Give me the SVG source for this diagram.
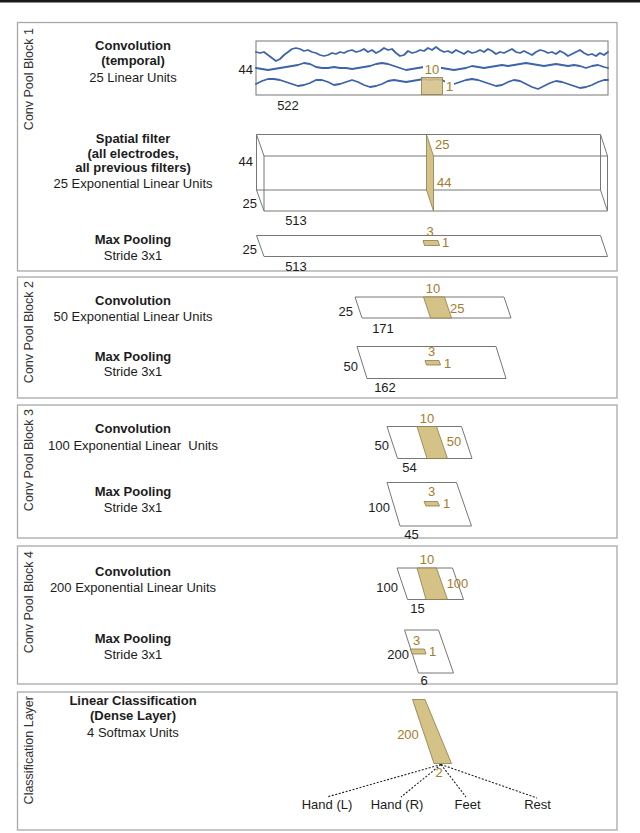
<svg xmlns="http://www.w3.org/2000/svg" width="640" height="833" viewBox="0 0 640 833">
<style>
.panel{fill:#fff;stroke:#a8a8a8;stroke-width:1.3}
.shape{fill:#fff;stroke:#777;stroke-width:1}
.edge{fill:none;stroke:#777;stroke-width:1}
.tan{fill:#d5c287;stroke:#8c7a48;stroke-width:0.8}
.t{font-family:"Liberation Sans",Arial,sans-serif;font-size:13px;fill:#1c1c1c;text-anchor:middle}
.b{font-weight:bold}
.n{font-family:"Liberation Sans",Arial,sans-serif;font-size:13px;fill:#1c1c1c}
.g{fill:#a57b2c}
.side{font-family:"Liberation Sans",Arial,sans-serif;font-size:12.5px;fill:#333;text-anchor:end}
.wave{fill:none;stroke:#3d63a8;stroke-width:1.8;stroke-linejoin:round;stroke-linecap:round}
.dot{fill:none;stroke:#222;stroke-width:1.1;stroke-dasharray:2 1.6}
.e{text-anchor:end}
.m{text-anchor:middle}
</style>
<rect x="0" y="0" width="640" height="833" fill="#fff"/>
<line x1="0" y1="1.3" x2="640" y2="1.3" stroke="#1a1a1a" stroke-width="2.6"/>

<!-- Block 1 -->
<g id="block1">
<rect class="panel" x="17.5" y="22.5" width="599.5" height="248.5"/>
<text class="side" transform="translate(33,28) rotate(-90)">Conv Pool Block 1</text>
<g id="conv1">
<text class="t b" x="133" y="50">Convolution</text>
<text class="t b" x="133" y="65">(temporal)</text>
<text class="t" x="133" y="82">25 Linear Units</text>
<rect class="shape" x="256" y="41" width="352" height="54"/>
<polyline class="wave" points="256,52 260,53 264,52 268,55 272,58 276,61 280,59 284,55 288,52 292,49 296,48 300,49 304,51 308,50 312,52 316,53 320,55 324,56 328,55 332,53 336,54 340,52 344,53 348,51 352,50 356,52 360,51 364,49 368,52 372,50 376,53 380,51 384,48 388,50 392,49 396,53 400,56 404,55 408,51 412,53 416,52 420,50 424,51 428,48 432,50 436,47 440,50 444,52 448,51 452,53 456,50 460,52 464,54 468,51 472,53 476,52 480,50 484,52 488,49 492,51 496,54 500,52 504,53 508,51 512,49 516,52 520,53 524,51 528,53 532,55 536,52 540,50 544,51 548,53 552,52 556,54 560,51 564,53 568,56 572,54 576,52 580,50 584,53 588,55 592,54 596,56 600,53 604,55 608,52"/>
<polyline class="wave" points="256,68 262,69 268,70 274,69 280,68 286,67 292,66 298,65 304,63 310,64 316,67 322,68 328,68 334,67 340,68 346,68 352,69 358,68 364,67 370,66 376,64 382,63 388,64 394,66 400,68 406,70 412,69 418,68 424,67 430,66 436,67 442,68 448,69 454,70 460,69 466,68 472,66 478,67 484,68 490,67 496,66 502,65 508,66 514,65 520,64 526,63 532,64 538,65 544,66 550,65 556,64 562,65 568,66 574,65 580,66 586,68 592,66 598,65 604,67 608,68"/>
<polyline class="wave" points="256,84 262,81 268,79 274,79 280,80 286,82 292,84 298,86 304,85 310,83 316,80 322,80 328,82 334,85 340,84 346,82 352,80 358,82 364,85 370,87 376,86 382,84 388,81 394,80 400,81 406,82 412,81 418,80 424,79 430,80 436,79 442,80 448,83 454,84 460,82 466,80 472,79 478,80 484,82 490,84 496,86 502,85 508,82 514,80 520,81 526,84 532,87 538,89 544,86 550,83 556,81 562,82 568,84 574,86 580,88 586,87 592,85 598,82 604,80 608,80"/>
<rect class="tan" x="421.5" y="77.5" width="21" height="17" fill-opacity="0.88"/>
<rect x="423" y="62" width="18" height="13" fill="#fff"/>
<rect x="445" y="79" width="9" height="13" fill="#fff"/>
<text class="n g m" x="432" y="73.5">10</text>
<text class="n g" x="446" y="90.5">1</text>
<text class="n e" x="253" y="73.5">44</text>
<text class="n m" x="288" y="109.5">522</text>
</g>
<g id="spatial1">
<text class="t b" x="133" y="143">Spatial filter</text>
<text class="t b" x="133" y="157.5">(all electrodes,</text>
<text class="t b" x="133" y="172">all previous filters)</text>
<text class="t" x="133" y="188">25 Exponential Linear Units</text>
<path class="edge" d="M256.5,134.5 H600.5 V190 H256.5 Z M264,156 H607.5 V211 H264 Z M256.5,134.5 L264,156 M600.5,134.5 L607.5,156 M256.5,190 L264,211 M600.5,190 L607.5,211"/>
<polygon class="tan" points="426.5,134.5 433.5,156 433.5,211 426.5,190"/>
<text class="n g" x="435" y="148.5">25</text>
<text class="n g" x="437" y="186.5">44</text>
<text class="n e" x="253" y="166">44</text>
<text class="n e" x="257" y="208">25</text>
<text class="n m" x="296" y="224.5">513</text>
</g>
<g id="pool1">
<text class="t b" x="133" y="244">Max Pooling</text>
<text class="t" x="133" y="260">Stride 3x1</text>
<polygon class="shape" points="256.5,235.5 600.5,235.5 607.5,256.5 264,256.5"/>
<polygon class="tan" points="423,240.5 438,240.5 439.5,245.5 424.5,245.5"/>
<text class="n g m" x="430" y="236">3</text>
<text class="n g" x="442" y="247">1</text>
<text class="n e" x="257" y="254">25</text>
<text class="n m" x="296" y="270.5">513</text>
</g>
</g>

<!-- Block 2 -->
<g id="block2">
<rect class="panel" x="17.5" y="277" width="599.5" height="121"/>
<text class="side" transform="translate(33,281) rotate(-90)">Conv Pool Block 2</text>
<g id="conv2">
<text class="t b" x="133" y="305">Convolution</text>
<text class="t" x="133" y="321">50 Exponential Linear Units</text>
<polygon class="shape" points="355,297 504,297 511,318 362,318"/>
<polygon class="tan" points="423.5,297 444.5,297 451.5,318 430.5,318"/>
<text class="n g m" x="433" y="293">10</text>
<text class="n g" x="450" y="312.5">25</text>
<text class="n e" x="353" y="315.5">25</text>
<text class="n m" x="383" y="332.5">171</text>
</g>
<g id="pool2">
<text class="t b" x="133" y="360.5">Max Pooling</text>
<text class="t" x="133" y="375.5">Stride 3x1</text>
<polygon class="shape" points="357,346.5 496,346.5 506,378.5 367,378.5"/>
<polygon class="tan" points="425,360.5 439,360.5 440.5,365 426.5,365"/>
<text class="n g m" x="431.5" y="355.5">3</text>
<text class="n g" x="444" y="368">1</text>
<text class="n e" x="358" y="371">50</text>
<text class="n m" x="385" y="392">162</text>
</g>
</g>

<!-- Block 3 -->
<g id="block3">
<rect class="panel" x="17.5" y="405" width="599.5" height="133"/>
<text class="side" transform="translate(33,409) rotate(-90)">Conv Pool Block 3</text>
<g id="conv3">
<text class="t b" x="133" y="432.5">Convolution</text>
<text class="t" x="133" y="449.5" xml:space="preserve">100 Exponential Linear  Units</text>
<polygon class="shape" points="387,426.5 461.5,426.5 472,458.5 397.5,458.5"/>
<polygon class="tan" points="417,426.5 436.5,426.5 447.5,458.5 427,458.5"/>
<text class="n g m" x="427" y="423">10</text>
<text class="n g m" x="454" y="446">50</text>
<text class="n e" x="389" y="450">50</text>
<text class="n m" x="409.5" y="472">54</text>
</g>
<g id="pool3">
<text class="t b" x="133" y="495.5">Max Pooling</text>
<text class="t" x="133" y="511.5">Stride 3x1</text>
<polygon class="shape" points="387,482.5 456.5,482.5 471.5,526 400,526"/>
<polygon class="tan" points="424,501.5 437.5,501.5 439.5,506 426,506"/>
<text class="n g m" x="431.5" y="496">3</text>
<text class="n g" x="443" y="508">1</text>
<text class="n e" x="390" y="512">100</text>
<text class="n m" x="411.5" y="538.5">45</text>
</g>
</g>

<!-- Block 4 -->
<g id="block4">
<rect class="panel" x="17.5" y="546" width="599.5" height="138"/>
<text class="side" transform="translate(33,551) rotate(-90)">Conv Pool Block 4</text>
<g id="conv4">
<text class="t b" x="133" y="575.5">Convolution</text>
<text class="t" x="133" y="591.5">200 Exponential Linear Units</text>
<polygon class="shape" points="397,568 452.5,568 463.5,599.5 407.5,599.5"/>
<polygon class="tan" points="417,568 436.5,568 447.5,599.5 426,599.5"/>
<text class="n g m" x="427" y="563.5">10</text>
<text class="n g m" x="457.5" y="588">100</text>
<text class="n e" x="398" y="592">100</text>
<text class="n m" x="417.5" y="613">15</text>
</g>
<g id="pool4">
<text class="t b" x="133" y="642.5">Max Pooling</text>
<text class="t" x="133" y="658.5">Stride 3x1</text>
<polygon class="shape" points="404.5,630 438.5,630 453.5,673 418.5,673"/>
<polygon class="tan" points="410.5,649 424.5,649 426,654 412,654"/>
<text class="n g m" x="416.5" y="645">3</text>
<text class="n g" x="429" y="656">1</text>
<text class="n e" x="409" y="659">200</text>
<text class="n m" x="424" y="684.5">6</text>
</g>
</g>

<!-- Classification -->
<g id="block5">
<rect class="panel" x="17.5" y="692" width="599.5" height="138"/>
<text class="side" transform="translate(33,696) rotate(-90)">Classification Layer</text>
<g id="dense">
<text class="t b" x="133" y="705">Linear Classification</text>
<text class="t b" x="133" y="719.5">(Dense Layer)</text>
<text class="t" x="133" y="737">4 Softmax Units</text>
<polygon class="tan" points="412.5,699.5 425,699.5 451.5,763.5 434,763.5"/>
<text class="n g m" x="408" y="739">200</text>
<text class="n g m" x="439" y="777">2</text>
</g>
<g id="out-handl"><text class="n m" x="327" y="808.5">Hand (L)</text></g>
<g id="out-handr"><text class="n m" x="397" y="808.5">Hand (R)</text></g>
<g id="out-feet"><text class="n m" x="467.5" y="808.5">Feet</text></g>
<g id="out-rest"><text class="n m" x="537.5" y="808.5">Rest</text></g>
</g>

<g id="connectors">
<line class="dot" x1="441" y1="764.5" x2="327" y2="797"/>
<line class="dot" x1="441" y1="764.5" x2="401" y2="797"/>
<line class="dot" x1="441" y1="764.5" x2="466" y2="797"/>
<line class="dot" x1="441" y1="764.5" x2="537" y2="798"/>
</g>
</svg>
